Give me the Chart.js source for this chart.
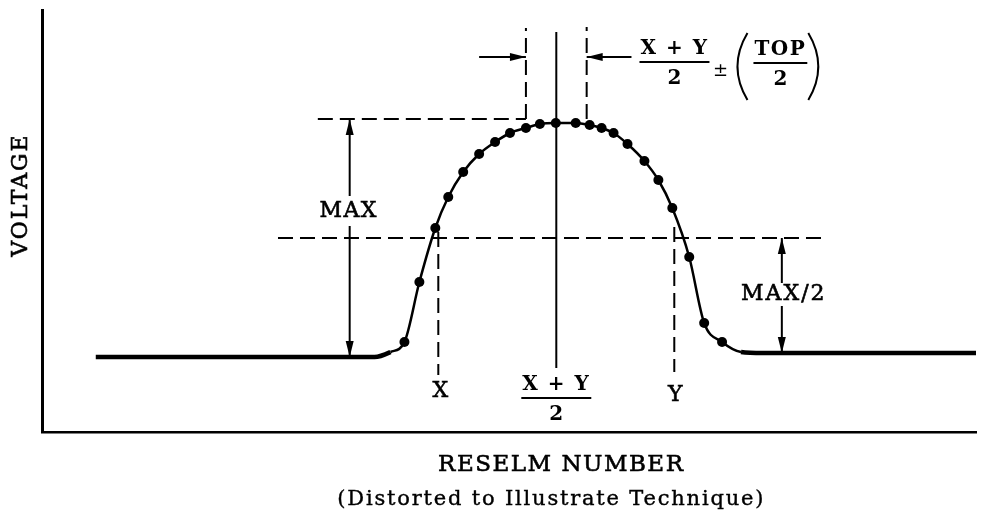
<!DOCTYPE html>
<html>
<head>
<meta charset="utf-8">
<style>
  html, body { margin: 0; padding: 0; background: #fff; }
</style>
</head>
<body>
<canvas id="chart" width="981" height="514"></canvas>
<script src="https://cdn.jsdelivr.net/npm/chart.js@4.4.1/dist/chart.umd.min.js"></script>
<script>
// sampled reselms across the pulse and the voltage read at each one
const sampleX = [36.4, 37.9, 39.5, 40.8, 42.3, 43.9, 45.5, 47.0, 48.6, 50.0, 51.6,
                 53.6, 55.0, 56.2, 57.4, 58.8, 60.5, 61.9, 63.3, 65.0, 66.5, 68.3];
const sampleV = [9.0, 15.0, 20.4, 23.5, 26.0, 27.8, 29.0, 29.9, 30.4, 30.8, 30.9,
                 30.9, 30.7, 30.4, 29.9, 28.8, 27.1, 25.2, 22.4, 17.5, 10.9, 9.0];

// flat background level either side of the pulse
const leftBaseX = [5.4, 25.7, 33.4, 35.0];
const leftBaseV = [7.5, 7.5, 7.5, 8.0];
const rightBaseX = [70.2, 72.4, 93.8];
const rightBaseV = [8.0, 7.9, 7.9];

// levels and reselm positions marked on the plot
const maxLevel = 31.3;
const halfLevel = 19.4;
const baseLevel = 7.5;
const edgeX = 39.8;
const edgeY = 63.5;
const centre = (edgeX + edgeY) / 2;
const topHalf = 3.05;

const ink = '#000';
const serif = '"DejaVu Serif", "Liberation Serif", serif';

const toPoints = (xs, vs) => xs.map((x, i) => ({ x: x, y: vs[i] }));
const samples = toPoints(sampleX, sampleV);
const curve = toPoints(leftBaseX, leftBaseV)
  .concat(samples)
  .concat(toPoints(rightBaseX, rightBaseV));

function seg(ctx, x1, y1, x2, y2) {
  ctx.beginPath();
  ctx.moveTo(x1, y1);
  ctx.lineTo(x2, y2);
  ctx.stroke();
}

// filled arrow head with its tip at (x, y), pointing along (dx, dy)
function head(ctx, x, y, dx, dy) {
  const len = 16, half = 4;
  const bx = x - dx * len, by = y - dy * len;
  ctx.beginPath();
  ctx.moveTo(x, y);
  ctx.lineTo(bx - dy * half, by + dx * half);
  ctx.lineTo(bx + dy * half, by - dx * half);
  ctx.closePath();
  ctx.fill();
}

// text with a thin outline so it reads as heavy as the line work
function label(ctx, text, x, y, size, weight, spacing, outline) {
  ctx.font = (weight || 'normal') + ' ' + size + 'px ' + serif;
  ctx.letterSpacing = (spacing || 0) + 'px';
  ctx.textAlign = 'center';
  ctx.textBaseline = 'middle';
  ctx.fillText(text, x, y);
  const lw = outline === undefined ? 0.6 : outline;
  if (weight !== 'bold' && lw > 0) {
    ctx.lineWidth = lw;
    ctx.strokeText(text, x, y);
  }
}

function fracWidth(ctx, top) {
  ctx.font = 'bold 20px ' + serif;
  ctx.letterSpacing = '1.5px';
  return ctx.measureText(top).width + 2;
}

// stacked fraction centred on cx with its bar at barY
function fraction(ctx, top, bottom, cx, barY) {
  const w = fracWidth(ctx, top);
  label(ctx, top, cx, barY - 13, 20, 'bold', 1.5);
  label(ctx, bottom, cx, barY + 17, 20, 'bold', 0);
  ctx.lineWidth = 2;
  seg(ctx, cx - w / 2, barY, cx + w / 2, barY);
  return w;
}

// tall bracket: ends at x, middle pushed out by bulge
function paren(ctx, x, top, bottom, bulge) {
  ctx.lineWidth = 2;
  ctx.beginPath();
  ctx.moveTo(x, top);
  ctx.quadraticCurveTo(x - bulge * 2, (top + bottom) / 2, x, bottom);
  ctx.stroke();
}

const guides = {
  id: 'guides',
  beforeDatasetsDraw(chart) {
    const ctx = chart.ctx;
    const X = v => chart.scales.x.getPixelForValue(v);
    const Y = v => chart.scales.y.getPixelForValue(v);
    ctx.save();
    ctx.strokeStyle = ink;
    ctx.fillStyle = ink;
    ctx.lineWidth = 2;

    // dashed guides: peak level, half level, edges and tolerance band
    ctx.setLineDash([15, 7]);
    seg(ctx, X(27.7), Y(maxLevel), X(centre - topHalf), Y(maxLevel));
    seg(ctx, X(centre - topHalf), Y(maxLevel), X(centre - topHalf), Y(40.4));
    seg(ctx, X(centre + topHalf), Y(maxLevel), X(centre + topHalf), Y(40.5));
    seg(ctx, X(23.7), Y(halfLevel), X(78.7), Y(halfLevel));
    seg(ctx, X(edgeX), Y(20.0), X(edgeX), Y(5.7));
    seg(ctx, X(edgeY), Y(20.5), X(edgeY), Y(6.0));
    ctx.setLineDash([]);

    // centre line
    seg(ctx, X(centre), Y(40.0), X(centre), Y(6.4));

    // tolerance arrows
    const ay = Y(37.5);
    seg(ctx, X(43.9), ay, X(centre - topHalf), ay);
    head(ctx, X(centre - topHalf), ay, 1, 0);
    seg(ctx, X(59.2), ay, X(centre + topHalf), ay);
    head(ctx, X(centre + topHalf), ay, -1, 0);

    // MAX span
    const mx = X(30.9);
    seg(ctx, mx, Y(maxLevel), mx, Y(23.6));
    seg(ctx, mx, Y(20.6), mx, Y(baseLevel));
    head(ctx, mx, Y(maxLevel), 0, -1);
    head(ctx, mx, Y(baseLevel), 0, 1);

    // MAX/2 span
    const hx = X(74.3);
    seg(ctx, hx, Y(halfLevel), hx, Y(14.9));
    seg(ctx, hx, Y(12.6), hx, Y(7.9));
    head(ctx, hx, Y(halfLevel), 0, -1);
    head(ctx, hx, Y(7.9), 0, 1);
    ctx.restore();
  },
  afterDraw(chart) {
    const ctx = chart.ctx;
    const area = chart.chartArea;
    const X = v => chart.scales.x.getPixelForValue(v);
    const Y = v => chart.scales.y.getPixelForValue(v);
    ctx.save();
    ctx.fillStyle = ink;
    ctx.strokeStyle = ink;

    label(ctx, 'MAX', X(30.9) - 1, Y(22.1), 22, 'normal', 1.5);
    label(ctx, 'MAX/2', X(74.5), Y(13.8), 22, 'normal', 2);
    label(ctx, 'X', X(edgeX) + 2, Y(4.1), 22, 'normal', 0);
    label(ctx, 'Y', X(edgeY) + 1, Y(3.7), 22, 'normal', 0);
    fraction(ctx, 'X + Y', '2', X(centre), Y(3.4));

    // (X + Y)/2 ± (TOP/2) beside the right arrow
    const barY = Y(37.0);
    let x = X(59.2) + 8;
    let w = fracWidth(ctx, 'X + Y');
    fraction(ctx, 'X + Y', '2', x + w / 2, barY);
    x += w + 11;
    label(ctx, '±', x, barY + 9, 18, 'normal', 0, 0);
    x += 27;
    paren(ctx, x, barY - 29, barY + 38, 10);
    x += 6;
    w = fracWidth(ctx, 'TOP');
    fraction(ctx, 'TOP', '2', x + w / 2, barY + 1);
    x += w + 1;
    paren(ctx, x, barY - 29, barY + 38, -10);

    // axis titles
    ctx.save();
    ctx.translate(area.left - 21, Y(23.7));
    ctx.rotate(-Math.PI / 2);
    label(ctx, 'VOLTAGE', 0, 0, 22, 'normal', 2);
    ctx.restore();
    label(ctx, 'RESELM NUMBER', X(centre) + 5, area.bottom + 33, 23, 'normal', 1.5);
    label(ctx, '(Distorted to Illustrate Technique)', X(centre) - 5, area.bottom + 68, 21, 'normal', 1.8, 0.4);
    ctx.restore();
  }
};

new Chart(document.getElementById('chart'), {
  type: 'line',
  data: {
    datasets: [
      {
        data: curve,
        borderColor: ink,
        borderWidth: 2.5,
        pointRadius: 0,
        cubicInterpolationMode: 'monotone',
        segment: {
          borderWidth: c => (c.p0.parsed.y < 8.2 && c.p1.parsed.y < 8.2) ? 4.5 : 2.5
        }
      },
      {
        type: 'scatter',
        data: samples,
        pointRadius: 5,
        pointBackgroundColor: ink,
        pointBorderWidth: 0,
        showLine: false
      }
    ]
  },
  options: {
    responsive: false,
    devicePixelRatio: 1,
    animation: false,
    layout: { padding: { left: 42, top: 10, right: 0, bottom: 82 } },
    plugins: { legend: { display: false }, tooltip: { enabled: false } },
    scales: {
      x: {
        type: 'linear', min: 0, max: 93.8,
        ticks: { display: false },
        grid: { display: false, drawTicks: false },
        border: { display: true, color: ink, width: 2.5 }
      },
      y: {
        type: 'linear', min: 0, max: 42.2,
        ticks: { display: false },
        grid: { display: false, drawTicks: false },
        border: { display: true, color: ink, width: 3 }
      }
    }
  },
  plugins: [guides]
});
</script>
</body>
</html>
